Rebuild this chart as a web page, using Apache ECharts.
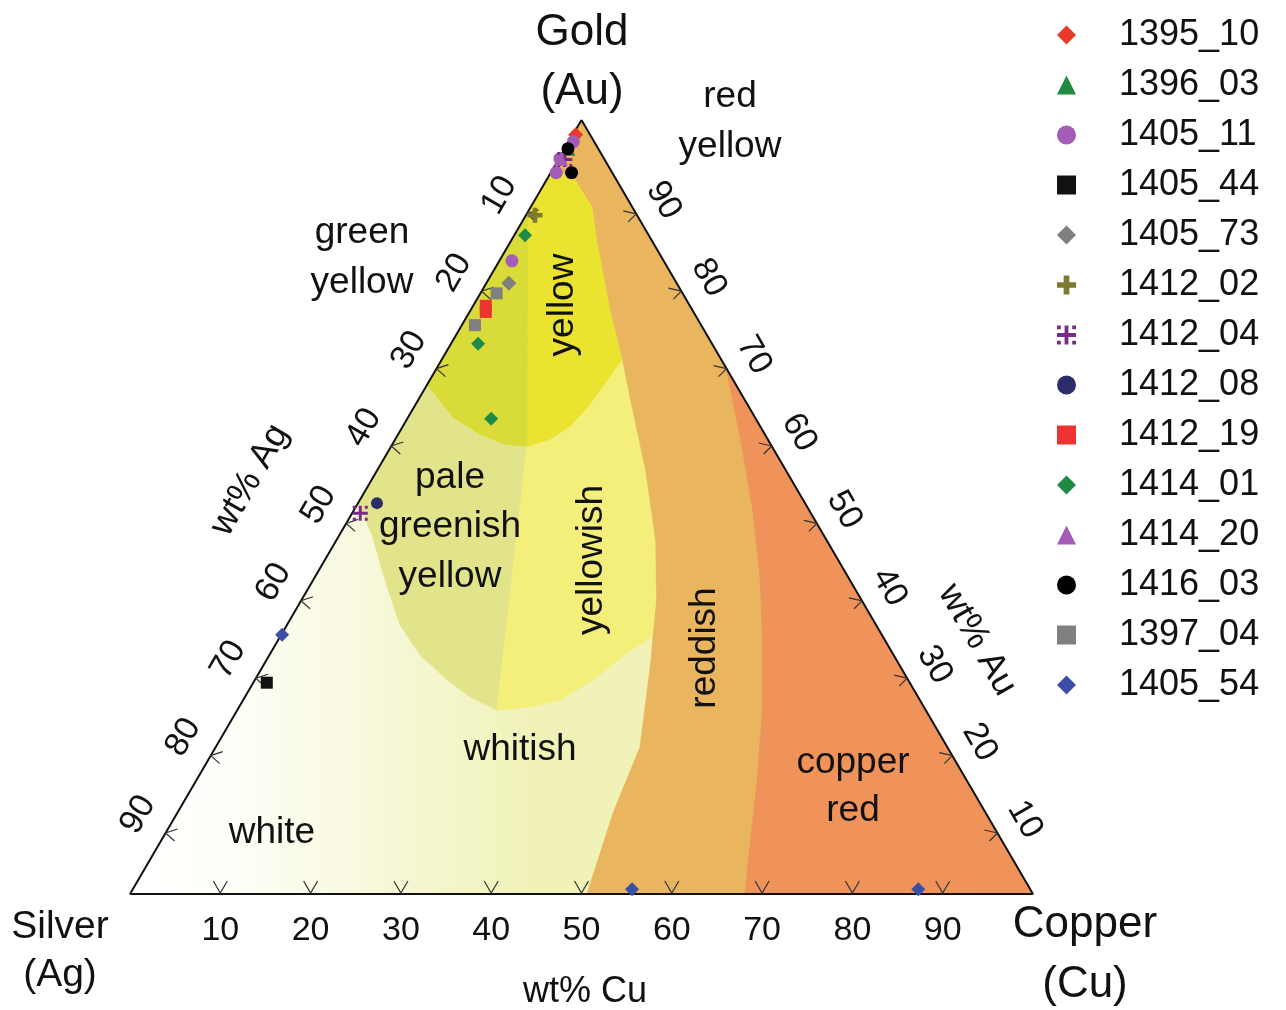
<!DOCTYPE html>
<html>
<head>
<meta charset="utf-8">
<script src="https://cdn.jsdelivr.net/npm/echarts@6/dist/echarts.min.js"></script>
<style>
  html, body { margin: 0; padding: 0; background: #fff; }
  #chart { width: 1286px; height: 1010px; }
</style>
</head>
<body>
<div id="chart"></div>
<script>
// every composition is [Au wt%, Cu wt%], Ag is the rest
const sampleNames = ["1395_10", "1396_03", "1405_11", "1405_44", "1405_73", "1412_02", "1412_04",
  "1412_08", "1412_19", "1414_01", "1414_20", "1416_03", "1397_04", "1405_54"];

const s1395_10 = [[98.1, 0.3]];
const s1396_03 = [[96.3, 0.4]];
const s1405_11 = [[97.2, 0.5], [95.0, 0.1], [93.2, 0.6], [81.8, 1.4]];
const s1405_44 = [[27.3, 1.5]];
const s1405_73 = [[78.9, 2.5]];
const s1412_02 = [[87.7, 1.0]];
const s1412_04 = [[94.9, 0.7], [49.2, 0.9]];
const s1412_08 = [[50.5, 2.1]];
const s1412_19 = [[76.0, 1.4], [75.2, 1.8]];
const s1414_01 = [[85.1, 1.2], [71.1, 3.0], [61.4, 9.3]];
const s1414_20 = [[95.0, 0.2]];
const s1416_03 = [[96.3, 0.35], [93.2, 2.3]];
const s1397_04 = [[77.6, 1.8], [73.5, 1.45]];
const s1405_54 = [[33.5, 0.1], [0.6, 55.3], [0.6, 87.0]];

// tick values on the three sides
const cuTicks = [10, 20, 30, 40, 50, 60, 70, 80, 90];
const agTicks = [10, 20, 30, 40, 50, 60, 70, 80, 90];
const auTicks = [10, 20, 30, 40, 50, 60, 70, 80, 90];

// colour field boundaries, [Au, Cu]
const triangle = [[100, 0], [0, 0], [0, 100]];
const reddishEdge = [[93.8, 0], [92.25, 3.16], [88.76, 6.78], [84.1, 9.67], [75.45, 15.43], [68.99, 19.99],
  [63.82, 23.46], [54.78, 29.64], [45.74, 35.27], [37.98, 39.26], [30.23, 42.58], [18.99, 46.98],
  [10.47, 48.26], [0, 50.6]];
const copperEdge = [[68, 32], [57.75, 38.9], [49.22, 44.4], [40.57, 49.5], [31.91, 54.1], [23.39, 58.3],
  [14.73, 62.1], [6.07, 65.6], [0, 68.1]];
const yellowEdge = [[65.76, 0], [61.5, 5.02], [59.3, 9.11], [58.01, 12.53], [57.75, 15.08], [58.66, 17.18],
  [60.34, 18.56], [63.18, 19.35], [66.41, 19.73], [68.99, 19.99]];
const paleEdge = [[50.5, 0], [46.38, 3.61], [40.57, 7.96], [34.75, 12.52], [30.88, 16.68], [27.91, 20.93],
  [25.45, 24.92], [23.77, 28.75]];
const yellowishBottom = [[33.2, 41.2], [31.14, 39.47], [27.65, 37.45], [25.06, 35.09], [24.16, 32.22], [23.77, 28.75]];

function toXY(p) {
  // ternary -> x along the base, y = Au
  return [p[1] + p[0] / 2, p[0]];
}

const regionPolys = [
  triangle,
  [[100, 0]].concat(reddishEdge, [[0, 100]]),
  copperEdge.concat([[0, 100]]),
  [[93.8, 0]].concat(yellowEdge, reddishEdge.slice(1, 5).reverse()),
  [[88, 0]].concat(yellowEdge.slice(0, 5)),
  [[65.76, 0]].concat(paleEdge, yellowEdge.slice(1, 5).reverse()),
  yellowEdge.slice(4).concat(reddishEdge.slice(6, 10), yellowishBottom)
];
const regionFills = [null, "#E9B55E", "#EF935A", "#EAE32F", "#D8DB38", "#E2E48B", "#F4EE7A"];

const FONT = "'Liberation Sans', Arial, sans-serif";

let tickItems = [];
cuTicks.forEach(v => tickItems.push(["cu", v]));
agTicks.forEach(v => tickItems.push(["ag", v]));
auTicks.forEach(v => tickItems.push(["au", v]));

function txt(x, y, text, size, rot) {
  return {
    type: "text", x: x, y: y, rotation: rot || 0, z: 100,
    style: {
      text: text, fontSize: size, fontFamily: FONT, fill: "#111",
      textAlign: "center", textVerticalAlign: "middle", align: "center", verticalAlign: "middle"
    }
  };
}

const plusPath = "path://M3.5,0H6.5V3.5H10V6.5H6.5V10H3.5V6.5H0V3.5H3.5Z";
const starPath = "path://M4,0H6V4H10V6H6V10H4V6H0V4H4Z M0,0H2V2H0Z M8,0H10V2H8Z M0,8H2V10H0Z M8,8H10V10H8Z";

const styles = {
  "1395_10": ["diamond", "#E8392B", 15, s1395_10],
  "1396_03": ["triangle", "#218A3C", 14, s1396_03],
  "1405_11": ["circle", "#A45DB6", 13, s1405_11],
  "1405_44": ["rect", "#111111", 12, s1405_44],
  "1405_73": ["diamond", "#7F7F7F", 15, s1405_73],
  "1412_02": [plusPath, "#7E7A2D", 15, s1412_02],
  "1412_04": [starPath, "#7A2A8A", 15, s1412_04],
  "1412_08": ["circle", "#2B2D6B", 12, s1412_08],
  "1412_19": ["rect", "#EE3333", 12, s1412_19],
  "1414_01": ["diamond", "#1F8A45", 14, s1414_01],
  "1414_20": ["triangle", "#A45DB6", 14, s1414_20],
  "1416_03": ["circle", "#000000", 13, s1416_03],
  "1397_04": ["rect", "#808080", 12, s1397_04],
  "1405_54": ["diamond", "#3A4EA6", 14, s1405_54]
};

let myChart = echarts.init(document.getElementById("chart"));

let series = [
  {
    // colour fields
    type: "custom", silent: true, z: 1,
    data: regionPolys.map((r, i) => [i, 0]),
    renderItem: function (params, api) {
      let pts = regionPolys[params.dataIndex].map(p => api.coord(toXY(p)));
      let fill = regionFills[params.dataIndex];
      if (params.dataIndex === 0) {
        let x0 = pts[1][0], x1 = pts[2][0];
        fill = new echarts.graphic.LinearGradient(x0, 0, x1, 0, [
          { offset: 0, color: "#FFFFFF" },
          { offset: 0.12, color: "#FEFEF8" },
          { offset: 0.3, color: "#F6F7D4" },
          { offset: 0.45, color: "#F0F2B8" },
          { offset: 1, color: "#F2F1B2" }
        ], true);
        return { type: "polygon", shape: { points: pts }, style: { fill: fill } };
      }
      return { type: "polygon", shape: { points: pts }, style: { fill: fill, stroke: fill, lineWidth: 0.6 } };
    }
  },
  {
    // triangle outline
    type: "line", silent: true, z: 5, symbol: "none",
    lineStyle: { color: "#111", width: 2 },
    data: triangle.concat([triangle[0]]).map(toXY)
  },
  {
    // arrow ticks + tick labels
    type: "custom", silent: true, z: 6,
    data: tickItems.map(() => [0, 0]),
    renderItem: function (params, api) {
      let side = tickItems[params.dataIndex][0];
      let v = tickItems[params.dataIndex][1];
      let p, tip, arms, lx, ly, rot;
      if (side === "cu") {
        p = api.coord([v, 0]);
        tip = [p[0], p[1] - 1];
        arms = [[tip[0] - 7, tip[1] - 12], tip, [tip[0] + 7, tip[1] - 12]];
        lx = p[0]; ly = p[1] + 37; rot = 0;
      } else if (side === "ag") {
        p = api.coord([(100 - v) / 2, 100 - v]);
        tip = [p[0] - 9.6, p[1] + 16.4];
        arms = [[tip[0] + 12, tip[1] - 4], tip, [tip[0] + 9, tip[1] + 8]];
        lx = p[0] - 37; ly = p[1] - 2; rot = Math.PI / 3;
      } else {
        p = api.coord([100 - v / 2, v]);
        tip = [p[0] + 9.6, p[1] + 16.4];
        arms = [[tip[0] - 13, tip[1] - 3], tip, [tip[0] - 8, tip[1] + 8]];
        lx = p[0] + 37; ly = p[1] + 3; rot = -Math.PI / 3;
      }
      return {
        type: "group",
        children: [
          { type: "polyline", shape: { points: arms }, style: { stroke: "#333", lineWidth: 1.2, fill: null } },
          {
            type: "text", x: lx, y: ly, rotation: rot,
            style: {
              text: String(v), fontSize: 34, fontFamily: FONT, fill: "#111",
              textAlign: "center", textVerticalAlign: "middle", align: "center", verticalAlign: "middle"
            }
          }
        ]
      };
    }
  }
];

sampleNames.forEach(name => {
  let st = styles[name];
  series.push({
    name: name,
    type: "scatter",
    z: 10,
    symbol: st[0],
    symbolSize: st[2],
    itemStyle: { color: st[1], opacity: 1 },
    data: st[3].map(toXY)
  });
});

let option = {
  animation: false,
  backgroundColor: "#fff",
  grid: { left: 130, right: 253, top: 120, bottom: 116, containLabel: false },
  xAxis: { type: "value", min: 0, max: 100, show: false },
  yAxis: { type: "value", min: 0, max: 100, show: false },
  legend: {
    orient: "vertical",
    left: 1052,
    top: 12,
    itemWidth: 19,
    itemHeight: 19,
    itemGap: 14,
    data: sampleNames,
    textStyle: { fontSize: 36, lineHeight: 36, color: "#111", fontFamily: FONT, padding: [0, 0, 0, 38] }
  },
  graphic: [
    txt(582, 33, "Gold", 44), txt(582, 92, "(Au)", 44),
    txt(730, 97, "red", 37), txt(730, 147, "yellow", 37),
    txt(362, 233, "green", 37), txt(362, 283, "yellow", 37),
    txt(563, 305, "yellow", 37, Math.PI / 2),
    txt(450, 478, "pale", 37), txt(450, 527, "greenish", 37), txt(450, 577, "yellow", 37),
    txt(592, 560, "yellowish", 37, Math.PI / 2),
    txt(705, 648, "reddish", 37, Math.PI / 2),
    txt(520, 750, "whitish", 37),
    txt(272, 833, "white", 37),
    txt(853, 763, "copper", 37), txt(853, 811, "red", 37),
    txt(60, 927, "Silver", 39), txt(60, 975, "(Ag)", 39),
    txt(1085, 925, "Copper", 44), txt(1085, 985, "(Cu)", 44),
    txt(585, 992, "wt% Cu", 36),
    txt(250, 480, "wt% Ag", 36, Math.PI / 3),
    txt(977, 640, "wt% Au", 36, -Math.PI / 3)
  ],
  series: series
};

myChart.setOption(option);
window.addEventListener("resize", () => {
  myChart.resize();
});
</script>
</body>
</html>
